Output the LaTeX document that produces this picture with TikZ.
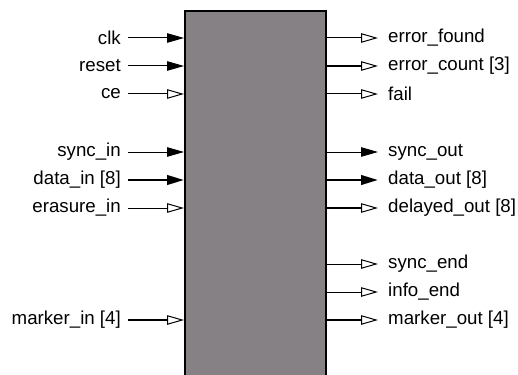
\documentclass[tikz,border=0pt]{standalone}
\usepackage{fontspec}
\setmainfont{Liberation Sans}
\usetikzlibrary{arrows.meta,positioning,calc}
\tikzset{main base/.style={draw,line width=2pt}, }
\tikzset{main block/.style={rectangle,main base,fill=blockgray,
    minimum width=141pt, minimum height=380pt,anchor=north west}, }
\tikzset{port in/.style={anchor=east,inner xsep=7pt,inner ysep=0pt,font=\fontsize{18.7}{21}\selectfont}, }
\tikzset{port out/.style={anchor=west,inner xsep=10pt,inner ysep=0pt,font=\fontsize{18.7}{21}\selectfont}, }
\tikzset{linea/.style={-{Triangle[length=17pt,width=9.5pt]},line width=1pt,draw}}
\tikzset{lineaopen/.style={-{Triangle[open,length=17pt,width=9.5pt,line width=1pt]},line width=1pt,draw}}
\tikzset{lineabus/.style={linea,line width=2.5pt}}
\tikzset{lineaopenbus/.style={lineaopen,line width=2.5pt}}
\definecolor{blockgray}{RGB}{134,129,132}

\begin{document}
\begin{tikzpicture}[x=1pt,y=-1pt]
  \useasboundingbox (0,0) rectangle (518,374);
  \clip (0,0) rectangle (518,374);
  \node[main block] (box) at (184,10) {};
  %
  \node[port in] (clk) at (128,38) {clk};
  \node[port in] (reset) [below=28pt of clk.east,anchor=east] {reset};
  \node[port in] (ce) [below=28pt of reset.east,anchor=east] {ce};
  \node[port in] (syncin) at (128,152) {sync\_in};
  \node[port in] (datain) [below=28pt of syncin.east,anchor=east] {data\_in [8]};
  \node[port in] (erasurein) [below=28pt of datain.east,anchor=east] {erasure\_in};
  \node[port in] (markerin) at (128,320) {marker\_in [4]};
  %
  \node[port out] (errorfound) at (378,38) {error\_found};
  \node[port out] (errorcount) [below=28pt of errorfound.west,anchor=west] {error\_count [3]};
  \node[port out] (fail) [below=28pt of errorcount.west,anchor=west] {fail};
  \node[port out] (syncout) at (378,152) {sync\_out};
  \node[port out] (dataout) [below=28pt of syncout.west,anchor=west] {data\_out [8]};
  \node[port out] (delayedout) [below=28pt of dataout.west,anchor=west] {delayed\_out [8]};
  \node[port out] (syncend) at (378,264) {sync\_end};
  \node[port out] (infoend) [below=28pt of syncend.west,anchor=west] {info\_end};
  \node[port out] (markerout) at (378,320) {marker\_out [4]};
  %
  \foreach \x/\s in {clk/linea,reset/linea,ce/lineaopen,syncin/linea,datain/lineabus,
      erasurein/lineaopen,markerin/lineaopenbus}
    \path[\s] (\x.east) -- (\x.east -| box.west);
  \foreach \x/\s in {errorfound/lineaopen,errorcount/lineaopenbus,fail/lineaopen,
      syncout/linea,dataout/lineabus,delayedout/lineaopenbus,syncend/lineaopen,
      infoend/lineaopen,markerout/lineaopenbus}
    \path[\s] (\x.west -| box.east) -- (\x.west);
  %
  \node[main block,fill=none] at (184,10) {};
\end{tikzpicture}
\end{document}
